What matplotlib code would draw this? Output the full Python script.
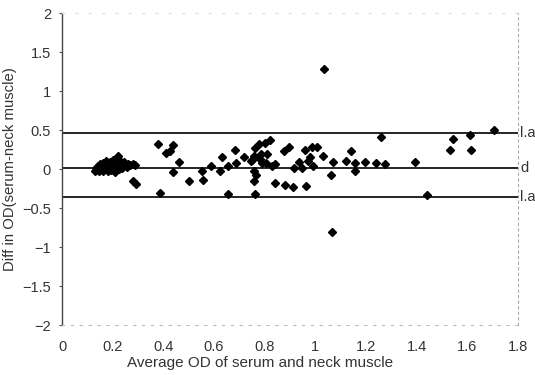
import matplotlib
matplotlib.use("Agg")
import matplotlib.pyplot as plt

plt.rcParams['font.family'] = ['Liberation Sans', 'DejaVu Sans']

# average OD (x) and difference in OD (y)
avg_od = [
    0.13, 0.135, 0.14, 0.145, 0.15, 0.15, 0.155, 0.16, 0.16, 0.165,
    0.17, 0.17, 0.175, 0.18, 0.18, 0.185, 0.19, 0.19, 0.195, 0.2,
    0.2, 0.205, 0.21, 0.21, 0.215, 0.22, 0.22, 0.225, 0.23, 0.23,
    0.235, 0.24, 0.245, 0.25, 0.255, 0.26, 0.27, 0.28, 0.29,
    0.28, 0.292, 0.378, 0.387, 0.41, 0.427, 0.437, 0.44, 0.46, 0.502,
    0.552, 0.556, 0.588, 0.622, 0.631, 0.654, 0.657, 0.681, 0.685, 0.717,
    0.747, 0.75, 0.756, 0.759, 0.759, 0.763, 0.763, 0.767, 0.776, 0.783,
    0.785, 0.79, 0.80, 0.805, 0.81, 0.82, 0.83, 0.84, 0.84, 0.875,
    0.88, 0.897, 0.91, 0.914, 0.937, 0.947, 0.958, 0.963, 0.97, 0.98,
    0.987, 0.99, 1.007, 1.029, 1.036, 1.062, 1.066, 1.07, 1.122, 1.142,
    1.155, 1.158, 1.195, 1.241, 1.261, 1.277, 1.393, 1.441, 1.53, 1.543,
    1.609, 1.614, 1.705,
]
diff_od = [
    -0.02, 0.01, 0.04, -0.03, 0.02, 0.06, 0.0, 0.08, -0.02, 0.04,
    0.07, 0.01, 0.1, 0.03, -0.03, 0.06, 0.02, 0.09, -0.01, 0.05,
    0.12, 0.02, 0.08, -0.04, 0.14, 0.04, 0.17, 0.0, 0.1, 0.06,
    0.02, 0.07, 0.09, 0.05, 0.03, 0.06, 0.05, 0.06, 0.05,
    -0.15, -0.19, 0.32, -0.30, 0.21, 0.23, 0.31, -0.04, 0.09, -0.15,
    -0.02, -0.14, 0.04, -0.03, 0.15, 0.04, -0.32, 0.25, 0.08, 0.15,
    0.10, 0.12, -0.03, 0.17, -0.15, 0.27, -0.32, -0.08, 0.32, 0.13,
    0.20, 0.08, 0.34, 0.08, 0.19, 0.37, 0.04, 0.06, -0.18, 0.23,
    -0.20, 0.28, -0.23, 0.02, 0.09, 0.02, 0.24, -0.21, 0.11, 0.15,
    0.29, 0.04, 0.28, 0.17, 1.29, -0.07, -0.81, 0.09, 0.10, 0.23,
    0.08, -0.03, 0.09, 0.08, 0.41, 0.06, 0.09, -0.33, 0.24, 0.39,
    0.44, 0.24, 0.50,
]

# mean difference and limits of agreement
ref_values = [0.46, 0.02, -0.36]
ref_labels = ["l.a", "d", "l.a"]

x_ticks = [0, 0.2, 0.4, 0.6, 0.8, 1, 1.2, 1.4, 1.6, 1.8]
x_tick_labels = ["0", "0.2", "0.4", "0.6", "0.8", "1", "1.2", "1.4", "1.6", "1.8"]
y_ticks = [-2, -1.5, -1, -0.5, 0, 0.5, 1, 1.5, 2]
y_tick_labels = ["\u22122", "\u22121.5", "\u22121", "\u22120.5", "0", "0.5", "1", "1.5", "2"]

fig = plt.figure(figsize=(5.35, 3.75), dpi=100)
ax = fig.add_axes([0.116, 0.133, 0.852, 0.832])

for val, lab in zip(ref_values, ref_labels):
    ax.plot([0, 1.8], [val, val], color='black', lw=1.2, zorder=2)
    ax.text(1.808, val, lab, ha='left', va='center', fontsize=10.5,
            color='#333333', clip_on=False)

ax.plot(avg_od, diff_od, linestyle='none', marker='D', ms=4.0,
        color='black', zorder=3)

ax.set_xlim(0, 1.8)
ax.set_ylim(-2, 2)
ax.set_xticks(x_ticks)
ax.set_xticklabels(x_tick_labels)
ax.set_yticks(y_ticks)
ax.set_yticklabels(y_tick_labels)
ax.tick_params(axis='x', length=0, pad=11, labelsize=10.5, labelcolor='#333333')
ax.tick_params(axis='y', length=2, pad=6, labelsize=10.5, labelcolor='#333333',
               color='#555555')

ax.spines['left'].set_color('#444444')
ax.spines['left'].set_linewidth(1.0)
ax.spines['bottom'].set_color('#bbbbbb')
ax.spines['bottom'].set_linestyle((0, (2, 6)))
ax.spines['right'].set_color('#aaaaaa')
ax.spines['right'].set_linestyle((0, (2, 3)))
ax.spines['top'].set_color('#dddddd')
ax.spines['top'].set_linestyle((0, (2, 10)))

ax.set_xlabel("Average OD of serum and neck muscle", fontsize=11,
              color='#333333', labelpad=3)
ax.xaxis.set_label_coords(0.434, -0.1)
ax.set_ylabel("Diff in OD(serum-neck muscle)", fontsize=10.7,
              color='#333333', labelpad=4)

fig.savefig("out.png", dpi=100)
